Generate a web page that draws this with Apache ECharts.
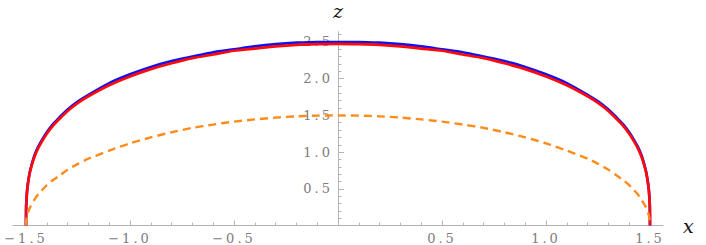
<!DOCTYPE html>
<html>
<head>
<meta charset="utf-8">
<script src="https://cdn.jsdelivr.net/npm/echarts@6/dist/echarts.min.js"></script>
<style>
  html, body { margin: 0; padding: 0; background: #fff; }
  #chart { width: 706px; height: 245px; }
  #chart svg text.ticklbl { letter-spacing: 3px; }
</style>
</head>
<body>
<div id="chart"></div>
<script>
// sample x positions
const xs = [-1.5,-1.499,-1.495,-1.49,-1.48,-1.46,-1.44,-1.42,-1.4,-1.37,-1.34,-1.3,-1.25,-1.2,-1.1,-1.0,-0.9,-0.8,-0.7,-0.6,-0.5,-0.4,-0.3,-0.2,-0.1,0,
            0.1,0.2,0.3,0.4,0.5,0.6,0.7,0.8,0.9,1.0,1.1,1.2,1.25,1.3,1.34,1.37,1.4,1.42,1.44,1.46,1.48,1.49,1.495,1.499,1.5];
// blue solid curve
const blueZ = [0,0.28,0.47,0.59,0.75,0.95,1.08,1.18,1.27,1.38,1.47,1.58,1.69,1.78,1.94,2.06,2.16,2.24,2.30,2.36,2.40,2.44,2.47,2.49,2.50,2.50,
               2.50,2.49,2.47,2.44,2.40,2.36,2.30,2.24,2.16,2.06,1.94,1.78,1.69,1.58,1.47,1.38,1.27,1.18,1.08,0.95,0.75,0.59,0.47,0.28,0];
// red solid curve
const redZ = [0,0.27,0.46,0.58,0.74,0.93,1.06,1.16,1.25,1.36,1.45,1.56,1.67,1.76,1.91,2.03,2.13,2.21,2.28,2.33,2.38,2.41,2.44,2.46,2.47,2.475,
              2.47,2.46,2.44,2.41,2.38,2.33,2.28,2.21,2.13,2.03,1.91,1.76,1.67,1.56,1.45,1.36,1.25,1.16,1.06,0.93,0.74,0.58,0.46,0.27,0];
// orange dashed curve
const orangeZ = [0,0.06,0.13,0.18,0.25,0.35,0.43,0.49,0.55,0.62,0.68,0.76,0.84,0.91,1.02,1.12,1.20,1.27,1.33,1.375,1.415,1.445,1.47,1.487,1.497,1.5,
                 1.497,1.487,1.47,1.445,1.415,1.375,1.33,1.27,1.20,1.12,1.02,0.91,0.84,0.76,0.68,0.62,0.55,0.49,0.43,0.35,0.25,0.18,0.13,0.06,0];
// ticks
const xMajorTicks = [-1.5,-1.0,-0.5,0.5,1.0,1.5];
const xMinorTicks = [-1.4,-1.3,-1.2,-1.1,-0.9,-0.8,-0.7,-0.6,-0.4,-0.3,-0.2,-0.1,0.1,0.2,0.3,0.4,0.6,0.7,0.8,0.9,1.1,1.2,1.3,1.4];
const yMajorTicks = [0.5,1.0,1.5,2.0,2.5];
const yMinorTicks = [0.1,0.2,0.3,0.4,0.6,0.7,0.8,0.9,1.1,1.2,1.3,1.4,1.6,1.7,1.8,1.9,2.1,2.2,2.3,2.4,2.6];

const pairs = (ys) => xs.map((x, i) => [x, ys[i]]);
const axisColor = '#b4b4b4';
const labelColor = '#7c7c7c';
const serif = 'DejaVu Serif';
const GRID_LEFT = 13, GRID_RIGHT = 43;
const yAxisOffset = -(706 - GRID_LEFT - GRID_RIGHT) / 2;  // put the z axis at x = 0

const chart = echarts.init(document.getElementById('chart'), null, { renderer: 'svg' });
chart.setOption({
  animation: false,
  backgroundColor: '#ffffff',
  grid: { left: GRID_LEFT, right: GRID_RIGHT, top: 31.7, bottom: 19.5, containLabel: false },
  xAxis: [
    {
      type: 'value', min: -1.5625, max: 1.5625, position: 'bottom',
      name: 'x', nameLocation: 'end', nameGap: 20,
      nameTextStyle: { fontFamily: serif, fontStyle: 'italic', fontSize: 19, color: '#111', verticalAlign: 'middle', align: 'left' },
      axisLine: { show: true, onZero: false, lineStyle: { color: axisColor, width: 1 } },
      axisTick: { show: true, inside: true, length: 5, customValues: xMajorTicks, lineStyle: { color: axisColor } },
      axisLabel: {
        show: true, customValues: xMajorTicks, margin: 6, color: labelColor, fontFamily: serif, fontSize: 13,
        formatter: (v) => (v < 0 ? '\u2212' + (-v).toFixed(1) : v.toFixed(1))
      },
      splitLine: { show: false }
    },
    {
      type: 'value', min: -1.5625, max: 1.5625, position: 'bottom',
      axisLine: { show: false, onZero: false },
      axisTick: { show: true, inside: true, length: 3, customValues: xMinorTicks, lineStyle: { color: axisColor } },
      axisLabel: { show: false },
      splitLine: { show: false }
    }
  ],
  yAxis: [
    {
      type: 'value', min: 0, max: 2.64, position: 'left', offset: yAxisOffset,
      name: 'z', nameLocation: 'end', nameGap: 11,
      nameTextStyle: { fontFamily: serif, fontStyle: 'italic', fontSize: 19, color: '#111', align: 'center' },
      axisLine: { show: true, onZero: false, lineStyle: { color: axisColor, width: 1 } },
      axisTick: { show: true, inside: true, length: 6, customValues: yMajorTicks, lineStyle: { color: axisColor } },
      axisLabel: {
        show: true, customValues: yMajorTicks, margin: 5, color: labelColor, fontFamily: serif, fontSize: 13,
        formatter: (v) => v.toFixed(1)
      },
      splitLine: { show: false }
    },
    {
      type: 'value', min: 0, max: 2.64, position: 'left', offset: yAxisOffset,
      axisLine: { show: false, onZero: false },
      axisTick: { show: true, inside: true, length: 3.5, customValues: yMinorTicks, lineStyle: { color: axisColor } },
      axisLabel: { show: false },
      splitLine: { show: false }
    }
  ],
  series: [
    { name: 'blue', type: 'line', xAxisIndex: 0, yAxisIndex: 0, data: pairs(blueZ), showSymbol: false, symbol: 'none',
      smooth: 0.25, lineStyle: { color: '#1010f0', width: 2.7 }, z: 3 },
    { name: 'red', type: 'line', xAxisIndex: 0, yAxisIndex: 0, data: pairs(redZ), showSymbol: false, symbol: 'none',
      smooth: 0.25, lineStyle: { color: '#ff0a0a', width: 2.7 }, z: 4 },
    { name: 'orange', type: 'line', xAxisIndex: 0, yAxisIndex: 0, data: pairs(orangeZ), showSymbol: false, symbol: 'none',
      smooth: 0.25, lineStyle: { color: '#ff8c1a', width: 2.4, type: [8, 5] }, z: 5 }
  ]
});

// widen the tick label texts (Mathematica-like spacing) with CSS letter-spacing
function markLabels() {
  document.querySelectorAll('#chart svg text').forEach(t => {
    const s = t.textContent.trim();
    if (/^[\u2212\-]?\d\.\d$/.test(s)) t.classList.add('ticklbl');
  });
}
markLabels();
chart.on('finished', markLabels);
</script>
</body>
</html>
